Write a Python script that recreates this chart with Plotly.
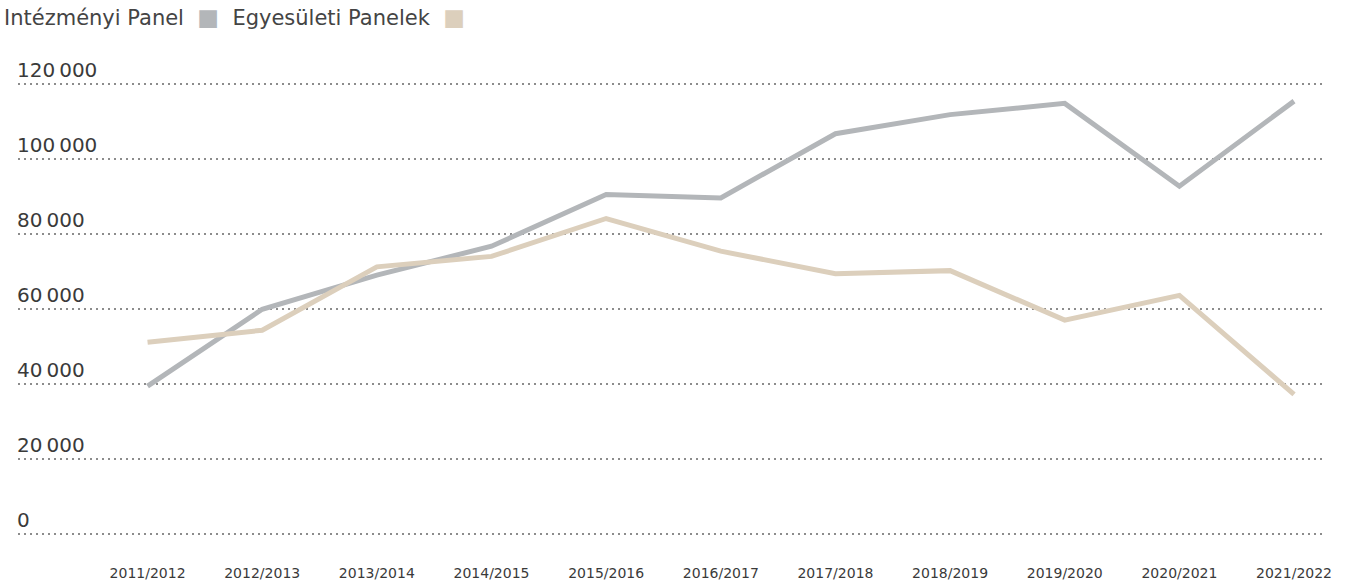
import plotly.graph_objects as go

# School years on the horizontal axis
years = ["2011/2012", "2012/2013", "2013/2014", "2014/2015", "2015/2016", "2016/2017",
         "2017/2018", "2018/2019", "2019/2020", "2020/2021", "2021/2022"]

# Participants per panel type
intezmenyi = [39500, 60000, 69100, 76800, 90600, 89700, 106800, 111900, 114900, 92800, 115500]
egyesuleti = [51200, 54400, 71300, 74100, 84200, 75500, 69500, 70300, 57100, 63700, 37300]

# Value axis ticks
y_ticks = [0, 20000, 40000, 60000, 80000, 100000, 120000]
y_tick_text = ["0", "20\u202f000", "40\u202f000", "60\u202f000", "80\u202f000", "100\u202f000", "120\u202f000"]

series_names = ["Intézményi Panel", "Egyesületi Panelek"]
series_colors = ["#b3b6b9", "#dccfbc"]

FONT = "'DejaVu Sans', 'Open Sans', sans-serif"
TEXT_COLOR = "#3a3a3a"

fig = go.Figure()
for name, vals, col in zip(series_names, [intezmenyi, egyesuleti], series_colors):
    fig.add_trace(go.Scatter(
        x=years, y=vals, name=name, mode="lines",
        line=dict(color=col, width=5),
        showlegend=False,
    ))

# Legend row: label followed by a colour square
legend_html = "  ".join(
    f"{n}  <span style='color:{c};font-size:23px'>■</span>" for n, c in zip(series_names, series_colors)
)
fig.add_annotation(
    text=legend_html, xref="paper", yref="paper", x=0, y=1,
    xanchor="left", yanchor="bottom", xshift=-16, yshift=26, showarrow=False,
    font=dict(family=FONT, size=21, color="#444444"),
)

# Value labels sit just above their dotted grid lines, flush left
for v, t in zip(y_ticks, y_tick_text):
    fig.add_annotation(
        text=t, xref="paper", yref="y", x=0, y=v,
        xanchor="left", yanchor="bottom", xshift=-3, yshift=0, showarrow=False,
        font=dict(family=FONT, size=20, color=TEXT_COLOR),
    )

fig.update_layout(
    width=1364, height=585,
    margin=dict(l=18, r=39, t=58, b=47, autoexpand=False),
    paper_bgcolor="white", plot_bgcolor="white",
    font=dict(family=FONT, color=TEXT_COLOR),
    xaxis=dict(
        type="category", range=[-1.13, 10.27], automargin=False,
        showgrid=False, zeroline=False, showline=False,
        ticks="outside", ticklen=22, tickcolor="rgba(0,0,0,0)",
        tickfont=dict(family=FONT, size=14, color=TEXT_COLOR),
    ),
    yaxis=dict(
        range=[-1000, 127000], automargin=False,
        tickvals=y_ticks, showticklabels=False,
        showgrid=True, gridcolor="#8c8c8c", griddash="2px,4px", gridwidth=1.8,
        zeroline=False, showline=False,
    ),
)

fig.write_html("out.html")
